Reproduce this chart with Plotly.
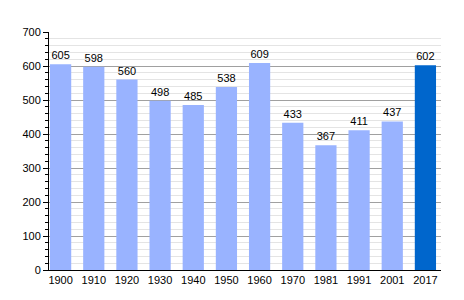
import plotly.graph_objects as go

years = ["1900", "1910", "1920", "1930", "1940", "1950", "1960", "1970", "1981", "1991", "2001", "2017"]
population = [605, 598, 560, 498, 485, 538, 609, 433, 367, 411, 437, 602]
colors = ["#99b3ff"] * 11 + ["#0066cc"]

fig = go.Figure(go.Bar(
    x=years, y=population, marker=dict(color=colors, line=dict(width=0)),
    text=[str(v) for v in population], textposition="outside",
    textfont=dict(family="Liberation Sans, Arial", size=11, color="#000"),
    cliponaxis=False, width=0.64,
))
fig.update_layout(
    width=464, height=300, margin=dict(l=49, r=23, t=32, b=30),
    paper_bgcolor="white", plot_bgcolor="white", showlegend=False,
    font=dict(family="Liberation Sans, Arial", size=11, color="#000"),
)
fig.update_xaxes(type="category", range=[-0.35, 11.47], showline=True, linecolor="#000",
                 linewidth=1, ticks="", showgrid=False, tickfont=dict(size=11))
fig.update_yaxes(range=[0, 700], dtick=100, showline=True, linecolor="#000", linewidth=1,
                 ticks="outside", ticklen=5, tickcolor="#000", showgrid=True, gridcolor="#a0a0a0",
                 gridwidth=1, zeroline=False, tickfont=dict(size=11),
                 minor=dict(dtick=20, showgrid=True, gridcolor="#e4e4e4", ticks="outside",
                            ticklen=3, tickcolor="#000"))
fig.write_html("out.html")
